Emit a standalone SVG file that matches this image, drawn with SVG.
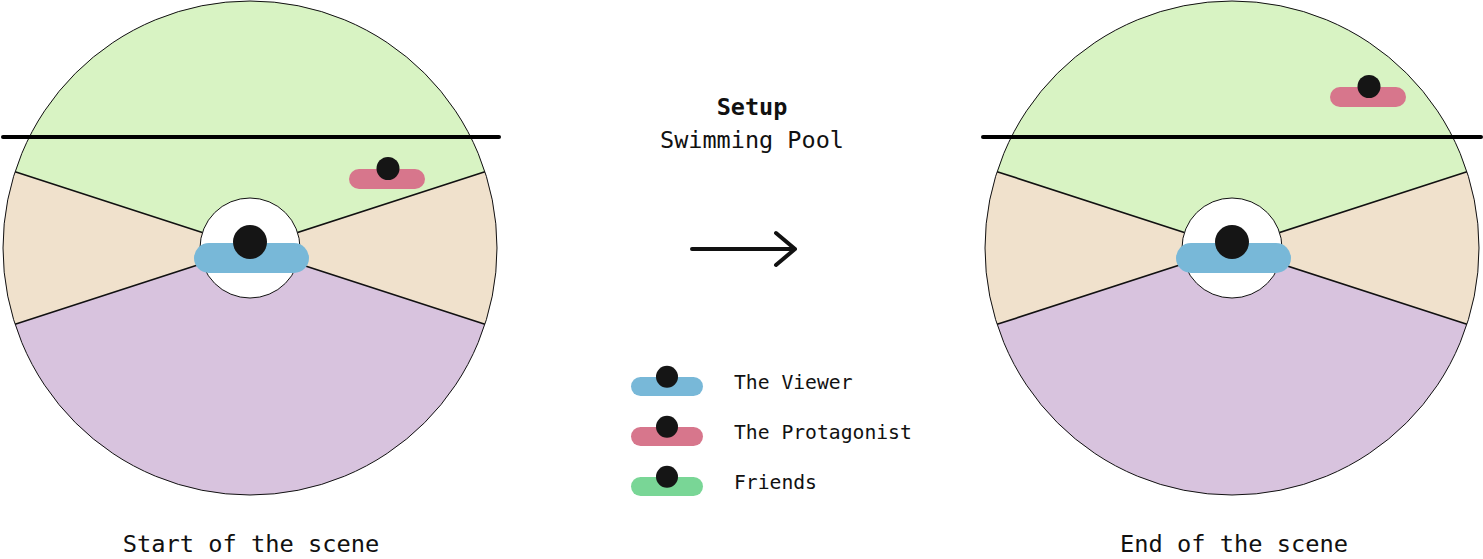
<svg xmlns="http://www.w3.org/2000/svg" xmlns:xlink="http://www.w3.org/1999/xlink" width="1483" height="559" viewBox="0 0 1483 559">
<style>
.txt{font-family:"DejaVu Sans Mono","Liberation Mono",monospace;fill:#111;}
.title{font-size:23.5px;font-weight:bold;}
.sub{font-size:23.5px;}
.leg{font-size:19.7px;}
.cap{font-size:23.7px;}
.green{fill:#d8f3c3;}
.tan{fill:#f0e1cc;}
.purple{fill:#d8c3de;}
.sep{stroke:#111;stroke-width:1.6;fill:none;}
.rim{fill:none;stroke:#111;stroke-width:1;}
.horizon{stroke:#000;stroke-width:4;stroke-linecap:round;}
.dot{fill:#151515;}
.viewer{fill:#78b8d8;}
.prot{fill:#d7768c;}
.friend{fill:#79d696;}
.arrow{stroke:#111;stroke-width:4;fill:none;stroke-linecap:round;stroke-linejoin:round;}
</style>
<defs>
<g id="wheel">
<circle cx="250" cy="248" r="247" class="purple"/>
<path class="green" d="M250,248 L15.09,171.67 A247,247 0 0 1 484.91,171.67 Z"/>
<path class="tan" d="M250,248 L15.09,171.67 A247,247 0 0 0 15.09,324.33 Z"/>
<path class="tan" d="M250,248 L484.91,171.67 A247,247 0 0 1 484.91,324.33 Z"/>
<path class="sep" d="M250,248 L15.09,171.67 M250,248 L484.91,171.67 M250,248 L15.09,324.33 M250,248 L484.91,324.33"/>
<circle cx="250" cy="248" r="247" class="rim"/>
</g>
<g id="viewer">
<circle cx="250" cy="248" r="50" fill="#fff" stroke="#111" stroke-width="1"/>
<rect x="194" y="243" width="115" height="30" rx="15" class="viewer"/>
<circle cx="250" cy="242" r="17" class="dot"/>
</g>
</defs>

<g id="start-scene">
<use xlink:href="#wheel"/>
<line x1="3" y1="137" x2="499" y2="137" class="horizon"/>
<g id="start-protagonist">
<rect x="349" y="169" width="76" height="20" rx="10" class="prot"/>
<circle cx="388" cy="168.5" r="11.5" class="dot"/>
</g>
<use xlink:href="#viewer"/>
<text x="251" y="552" text-anchor="middle" class="txt cap">Start of the scene</text>
</g>

<g id="end-scene">
<use xlink:href="#wheel" transform="translate(982,0)"/>
<line x1="983" y1="137" x2="1481" y2="137" class="horizon"/>
<g id="end-protagonist">
<rect x="1330" y="87" width="76" height="20" rx="10" class="prot"/>
<circle cx="1369" cy="86.5" r="11.5" class="dot"/>
</g>
<use xlink:href="#viewer" transform="translate(982,0)"/>
<text x="1234" y="552" text-anchor="middle" class="txt cap">End of the scene</text>
</g>

<g id="header">
<text x="752" y="115" text-anchor="middle" class="txt title">Setup</text>
<text x="752" y="148" text-anchor="middle" class="txt sub">Swimming Pool</text>
</g>

<g id="connectors">
<path class="arrow" d="M692,249 L795,249 M776,233 L795,249 L776,265"/>
</g>

<g id="legend">
<g id="legend-viewer">
<rect x="631" y="377" width="72" height="19" rx="9.5" class="viewer"/>
<circle cx="667" cy="376.7" r="11" class="dot"/>
<text x="734" y="389" class="txt leg">The Viewer</text>
</g>
<g id="legend-protagonist">
<rect x="631" y="427" width="72" height="19" rx="9.5" class="prot"/>
<circle cx="667" cy="426.8" r="11" class="dot"/>
<text x="734" y="439" class="txt leg">The Protagonist</text>
</g>
<g id="legend-friends">
<rect x="631" y="477" width="72" height="19" rx="9.5" class="friend"/>
<circle cx="667" cy="476.8" r="11" class="dot"/>
<text x="734" y="489" class="txt leg">Friends</text>
</g>
</g>
</svg>
